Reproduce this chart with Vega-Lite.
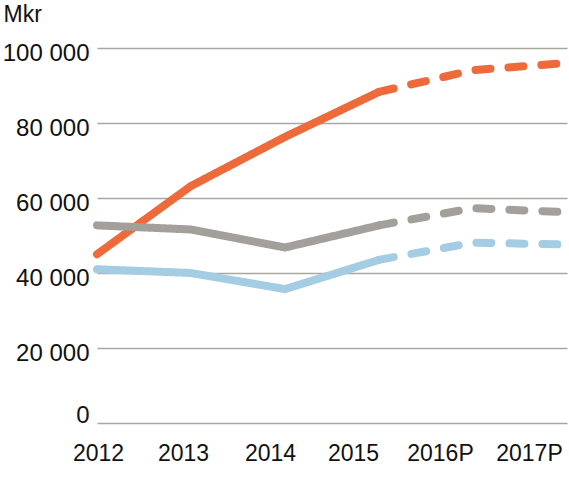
{
  "$schema": "https://vega.github.io/schema/vega-lite/v6.json",
  "autosize": "none",
  "padding": {"left": 97, "top": 48, "right": 2, "bottom": 76},
  "width": 470,
  "height": 375,
  "background": "#ffffff",
  "data": {
    "values": [
      {"year": "2012", "series": "orange", "seg": "actual", "value": 45000},
      {"year": "2013", "series": "orange", "seg": "actual", "value": 63200},
      {"year": "2014", "series": "orange", "seg": "actual", "value": 76300},
      {"year": "2015", "series": "orange", "seg": "actual", "value": 88300},
      {"year": "2015", "series": "orange", "seg": "forecast", "value": 88300},
      {"year": "2016P", "series": "orange", "seg": "forecast", "value": 94100},
      {"year": "2017P", "series": "orange", "seg": "forecast", "value": 96000},
      {"year": "2012", "series": "gray", "seg": "actual", "value": 52700},
      {"year": "2013", "series": "gray", "seg": "actual", "value": 51600},
      {"year": "2014", "series": "gray", "seg": "actual", "value": 46800},
      {"year": "2015", "series": "gray", "seg": "actual", "value": 52700},
      {"year": "2015", "series": "gray", "seg": "forecast", "value": 52700},
      {"year": "2016P", "series": "gray", "seg": "forecast", "value": 57300},
      {"year": "2017P", "series": "gray", "seg": "forecast", "value": 56200},
      {"year": "2012", "series": "blue", "seg": "actual", "value": 41000},
      {"year": "2013", "series": "blue", "seg": "actual", "value": 40000},
      {"year": "2014", "series": "blue", "seg": "actual", "value": 35700},
      {"year": "2015", "series": "blue", "seg": "actual", "value": 43500},
      {"year": "2015", "series": "blue", "seg": "forecast", "value": 43500},
      {"year": "2016P", "series": "blue", "seg": "forecast", "value": 48100},
      {"year": "2017P", "series": "blue", "seg": "forecast", "value": 47600}
    ]
  },
  "mark": {"type": "line", "strokeWidth": 8, "strokeCap": "round", "strokeJoin": "round"},
  "encoding": {
    "x": {
      "field": "year",
      "type": "ordinal",
      "scale": {"type": "point", "padding": 0},
      "axis": {
        "title": null,
        "domain": false,
        "ticks": false,
        "labelAngle": 0,
        "labelPadding": 19,
        "labelOverlap": false,
        "labelFlush": false,
        "labelBound": false,
        "labelOffset": {
          "condition": [
            {"test": "datum.value == '2013'", "value": -8},
            {"test": "datum.value == '2014'", "value": -15},
            {"test": "datum.value == '2015'", "value": -26},
            {"test": "datum.value == '2016P'", "value": -33},
            {"test": "datum.value == '2017P'", "value": -38}
          ],
          "value": 1
        }
      }
    },
    "y": {
      "field": "value",
      "type": "quantitative",
      "scale": {"domain": [0, 100000], "nice": false},
      "axis": {
        "title": "Mkr",
        "titleAngle": 0,
        "titleAlign": "left",
        "titleBaseline": "alphabetic",
        "titleX": -94,
        "titleY": -27,
        "values": [0, 20000, 40000, 60000, 80000, 100000],
        "labelExpr": "replace(format(datum.value, ','), ',', ' ')",
        "labelFontSize": 24,
        "domain": false,
        "ticks": false,
        "labelPadding": 8,
        "labelOffset": {"condition": {"test": "datum.value == 0", "value": -8}, "value": 5},
        "grid": true
      }
    },
    "color": {
      "field": "series",
      "type": "nominal",
      "scale": {"domain": ["blue", "gray", "orange"], "range": ["#A4CDE3", "#A39F9A", "#EE6A3A"]},
      "legend": null
    },
    "detail": {"field": "seg", "type": "nominal"},
    "strokeDash": {
      "field": "seg",
      "type": "nominal",
      "scale": {"domain": ["actual", "forecast"], "range": [[1, 0], [15, 18]]},
      "legend": null
    }
  },
  "config": {
    "view": {"stroke": null},
    "font": "Liberation Sans",
    "axis": {
      "labelFont": "Liberation Sans",
      "labelFontSize": 23,
      "labelColor": "#111111",
      "titleFont": "Liberation Sans",
      "titleFontSize": 23,
      "titleFontWeight": "normal",
      "titleColor": "#111111",
      "gridColor": "#A9A6A1",
      "gridWidth": 1.5,
      "gridOpacity": 1
    }
  }
}
